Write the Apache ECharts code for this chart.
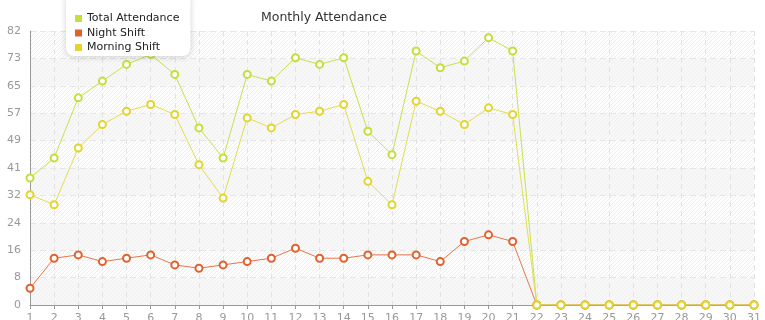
<!DOCTYPE html>
<html><head><meta charset="utf-8">
<script src="https://cdn.jsdelivr.net/npm/echarts@6/dist/echarts.min.js"></script>
<style>html,body{margin:0;padding:0;background:#fff}#c{width:765px;height:320px}</style>
</head><body><div id="c"></div>
<script>
const categories = ['1','2','3','4','5','6','7','8','9','10','11','12','13','14','15','16','17','18','19','20','21','22','23','24','25','26','27','28','29','30','31'];
const totalAttendance = [38,44,62,67,72,75,69,53,44,69,67,74,72,74,52,45,76,71,73,80,76,0,0,0,0,0,0,0,0,0,0];
const nightShift = [5,14,15,13,14,15,12,11,12,13,14,17,14,14,15,15,15,13,19,21,19,0,0,0,0,0,0,0,0,0,0];
const morningShift = [33,30,47,54,58,60,57,42,32,56,53,57,58,60,37,30,61,58,54,59,57,0,0,0,0,0,0,0,0,0,0];
const seriesNames = ['Total Attendance','Night Shift','Morning Shift'];
const yMax = 82;
const yStep = 8.2;

function makeHatch(bg, line){
  const pc = document.createElement('canvas');
  pc.width = 4; pc.height = 4;
  const g = pc.getContext('2d');
  g.fillStyle = bg; g.fillRect(0,0,4,4);
  g.strokeStyle = line; g.lineWidth = 1;
  [[0,4,4,0],[-2,2,2,-2],[2,6,6,2]].forEach(p=>{g.beginPath(); g.moveTo(p[0],p[1]); g.lineTo(p[2],p[3]); g.stroke();});
  return {image: pc, repeat: 'repeat'};
}
const hatchGray = makeHatch('#f7f7f7', '#f1f1f1');
const hatchWhite = makeHatch('#fdfdfd', '#eeeeee');

const chart = echarts.init(document.getElementById('c'), null, {renderer:'canvas'});
const font = 'DejaVu Sans';
chart.setOption({
  animation:false,
  textStyle:{fontFamily:font},
  title:{text:'Monthly Attendance', left:256, top:6, textStyle:{fontSize:12.5, fontWeight:'normal', color:'#333', fontFamily:font}},
  legend:{
    data:seriesNames, orient:'vertical', left:66, top:-7,
    padding:[20,11,3,9], itemGap:3.5, itemWidth:7, itemHeight:7, icon:'rect',
    backgroundColor:'#fff', borderRadius:8,
    shadowBlur:6, shadowColor:'rgba(0,0,0,0.18)', shadowOffsetY:1,
    textStyle:{fontSize:11, color:'#222', fontFamily:font, padding:[0,0,0,0]}
  },
  grid:{left:30, right:11, top:31, bottom:15, outerBoundsMode:'none', containLabel:false},
  xAxis:{
    type:'category', data:categories, boundaryGap:false,
    axisLine:{lineStyle:{color:'#999'}},
    axisTick:{show:true, length:4, lineStyle:{color:'#999'}},
    axisLabel:{color:'#999', fontSize:11, margin:8, interval:0},
    splitLine:{show:true, lineStyle:{color:'#e2e2e2', type:[5,4]}}
  },
  yAxis:{
    type:'value', min:0, max:yMax, interval:yStep,
    axisLine:{show:true, lineStyle:{color:'#999'}},
    axisTick:{show:false},
    axisLabel:{color:'#999', fontSize:11, margin:9, formatter:v=>String(Math.floor(v+1e-6))},
    splitLine:{show:true, lineStyle:{color:'#e6e6e6', type:[6,4], width:1}},
    splitArea:{show:true, areaStyle:{color:[hatchGray, hatchWhite]}}
  },
  series:[
    {name:seriesNames[0], type:'line', data:totalAttendance, symbol:'emptyCircle', symbolSize:7,
     itemStyle:{color:'#c4df3c', borderWidth:1}, lineStyle:{width:1, color:'#c8e04e'}, z:3},
    {name:seriesNames[1], type:'line', data:nightShift, symbol:'emptyCircle', symbolSize:7,
     itemStyle:{color:'#e2622e', borderWidth:1}, lineStyle:{width:1, color:'#e6764a'}, z:4},
    {name:seriesNames[2], type:'line', data:morningShift, symbol:'emptyCircle', symbolSize:7,
     itemStyle:{color:'#e2d52e', borderWidth:1}, lineStyle:{width:1, color:'#e4dc50'}, z:5}
  ]
});
</script></body></html>
